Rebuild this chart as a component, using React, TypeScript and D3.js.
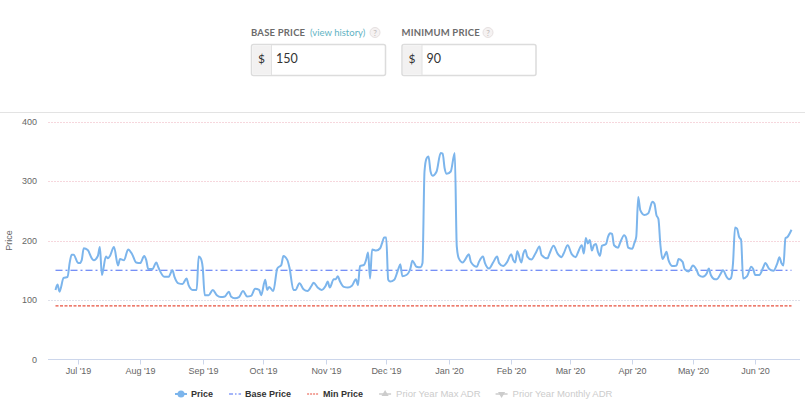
import * as d3 from "d3";
import React, { useEffect, useRef } from "react";

// daily rate series
const priceDates = [
  "2019-06-20", "2019-06-21", "2019-06-22", "2019-06-24", "2019-06-26", "2019-06-27", "2019-06-28", "2019-06-29",
  "2019-07-01", "2019-07-02", "2019-07-03", "2019-07-04", "2019-07-06", "2019-07-08", "2019-07-09", "2019-07-11",
  "2019-07-12", "2019-07-13", "2019-07-15", "2019-07-16", "2019-07-17", "2019-07-19", "2019-07-21", "2019-07-22",
  "2019-07-24", "2019-07-26", "2019-07-28", "2019-07-30",
  "2019-08-01", "2019-08-03", "2019-08-04", "2019-08-05", "2019-08-07", "2019-08-09", "2019-08-10", "2019-08-13",
  "2019-08-15", "2019-08-17", "2019-08-18", "2019-08-20", "2019-08-22", "2019-08-24", "2019-08-25", "2019-08-27",
  "2019-08-29", "2019-08-30", "2019-08-31",
  "2019-09-01", "2019-09-02", "2019-09-04", "2019-09-06", "2019-09-08", "2019-09-10", "2019-09-12", "2019-09-14",
  "2019-09-15", "2019-09-17", "2019-09-19", "2019-09-21", "2019-09-23", "2019-09-25", "2019-09-27", "2019-09-29",
  "2019-09-30",
  "2019-10-02", "2019-10-03", "2019-10-04", "2019-10-06", "2019-10-08", "2019-10-10", "2019-10-11", "2019-10-13",
  "2019-10-14", "2019-10-16", "2019-10-17", "2019-10-19", "2019-10-21", "2019-10-23", "2019-10-25", "2019-10-26",
  "2019-10-28", "2019-10-30",
  "2019-11-01", "2019-11-02", "2019-11-03", "2019-11-05", "2019-11-06", "2019-11-07", "2019-11-08", "2019-11-10",
  "2019-11-12", "2019-11-14", "2019-11-16", "2019-11-17", "2019-11-18", "2019-11-20", "2019-11-21", "2019-11-22",
  "2019-11-23", "2019-11-24", "2019-11-26", "2019-11-28", "2019-11-29", "2019-11-30",
  "2019-12-01", "2019-12-02", "2019-12-03", "2019-12-05", "2019-12-07", "2019-12-08", "2019-12-09", "2019-12-11",
  "2019-12-13", "2019-12-14", "2019-12-16", "2019-12-18", "2019-12-19", "2019-12-20", "2019-12-21", "2019-12-22",
  "2019-12-23", "2019-12-24", "2019-12-26", "2019-12-28", "2019-12-29", "2019-12-30", "2019-12-31",
  "2020-01-02", "2020-01-04", "2020-01-05", "2020-01-06", "2020-01-08", "2020-01-09", "2020-01-11", "2020-01-12",
  "2020-01-15", "2020-01-16", "2020-01-18", "2020-01-19", "2020-01-21", "2020-01-23", "2020-01-25", "2020-01-26",
  "2020-01-28", "2020-01-30",
  "2020-02-01", "2020-02-02", "2020-02-03", "2020-02-04", "2020-02-06", "2020-02-07", "2020-02-08", "2020-02-09",
  "2020-02-11", "2020-02-13", "2020-02-15", "2020-02-16", "2020-02-19", "2020-02-20", "2020-02-22", "2020-02-24",
  "2020-02-26", "2020-02-27", "2020-02-29",
  "2020-03-02", "2020-03-04", "2020-03-05", "2020-03-07", "2020-03-08", "2020-03-09", "2020-03-10", "2020-03-11",
  "2020-03-12", "2020-03-13", "2020-03-14", "2020-03-15", "2020-03-16", "2020-03-17", "2020-03-19", "2020-03-20",
  "2020-03-21", "2020-03-22", "2020-03-23", "2020-03-25", "2020-03-26", "2020-03-28", "2020-03-29", "2020-03-30",
  "2020-04-01", "2020-04-02", "2020-04-03", "2020-04-04", "2020-04-05", "2020-04-07", "2020-04-09", "2020-04-11",
  "2020-04-12", "2020-04-13", "2020-04-14", "2020-04-15", "2020-04-16", "2020-04-17", "2020-04-18", "2020-04-19",
  "2020-04-21", "2020-04-23", "2020-04-24", "2020-04-26", "2020-04-27", "2020-04-29", "2020-04-30",
  "2020-05-01", "2020-05-03", "2020-05-04", "2020-05-06", "2020-05-08", "2020-05-09", "2020-05-10", "2020-05-12",
  "2020-05-13", "2020-05-15", "2020-05-16", "2020-05-18", "2020-05-19", "2020-05-20", "2020-05-21", "2020-05-22",
  "2020-05-23", "2020-05-24", "2020-05-25", "2020-05-26", "2020-05-28", "2020-05-30", "2020-05-31",
  "2020-06-01", "2020-06-03", "2020-06-05", "2020-06-06", "2020-06-08", "2020-06-10", "2020-06-12", "2020-06-13",
  "2020-06-14", "2020-06-15", "2020-06-16", "2020-06-17", "2020-06-19",
];

const priceValues = [
  117, 126, 114, 137, 139, 162, 176, 176,
  163, 162, 167, 187, 184, 170, 167, 174,
  189, 142, 173, 170, 174, 189, 158, 169,
  167, 185, 177, 163,
  162, 174, 167, 152, 152, 163, 155, 139,
  139, 150, 139, 128, 127, 136, 125, 117,
  117, 173, 170,
  155, 108, 108, 117, 108, 105, 106, 114,
  106, 103, 105, 115, 106, 107, 119, 117,
  108,
  134, 117, 122, 115, 153, 159, 174, 167,
  155, 117, 117, 128, 118, 115, 124, 129,
  121, 117,
  124, 131, 121, 135, 135, 140, 132, 122,
  121, 124, 135, 125, 157, 159, 167, 180,
  136, 185, 183, 187, 196, 205,
  205, 134, 131, 134, 152, 160, 140, 142,
  153, 166, 156, 155, 162, 316, 338, 341,
  316, 309, 316, 347, 346, 321, 312,
  316, 347, 190, 170, 163, 167, 177, 164,
  156, 164, 173, 162, 153, 163, 173, 162,
  157, 164,
  177, 167, 163, 182, 163, 178, 184, 173,
  168, 178, 190, 176, 170, 178, 191, 178,
  172, 178, 192,
  177, 172, 179, 192, 178, 204, 195, 201,
  183, 192, 194, 181, 174, 191, 194, 206,
  212, 211, 192, 188, 196, 209, 204, 188,
  186, 195, 206, 273, 251, 243, 246, 265,
  262, 243, 236, 192, 169, 174, 181, 167,
  157, 158, 169, 164, 152, 148, 152,
  158, 150, 142, 139, 145, 153, 142, 135,
  135, 145, 150, 138, 135, 137, 162, 222,
  220, 206, 201, 136, 140, 156, 152,
  142, 142, 155, 162, 152, 149, 162, 172,
  162, 158, 204, 206, 218,
];

const basePrice = 150;
const minPrice = 90;
const yTicks = [0, 100, 200, 300, 400];
const monthTicks = [
  "2019-07-01", "2019-08-01", "2019-09-01", "2019-10-01", "2019-11-01", "2019-12-01",
  "2020-01-01", "2020-02-01", "2020-03-01", "2020-04-01", "2020-05-01", "2020-06-01",
];
const legendNames = ["Price", "Base Price", "Min Price", "Prior Year Max ADR", "Prior Year Monthly ADR"];
const legendHidden = [false, false, false, true, true];

const W = 805;
const H = 399;
const FONT = "'Liberation Sans', Arial, sans-serif";
const FORM_FONT = "Lato, 'Open Sans', sans-serif";

function App() {
  const ref = useRef<SVGSVGElement>(null);

  useEffect(() => {
    const svg = d3.select(ref.current);
    svg.selectAll("*").remove();

    const parse = d3.timeParse("%Y-%m-%d");
    const data = priceDates.map((d, i) => ({ date: parse(d) as Date, value: priceValues[i] }));

    const plot = { left: 48, right: 800, top: 121.5, bottom: 359.5 };

    const x = d3
      .scaleTime()
      .domain(d3.extent(data, (d) => d.date) as [Date, Date])
      .range([55.5, 791.5]);
    const y = d3.scaleLinear().domain([0, 400]).range([plot.bottom, plot.top]);

    // ---- top form (base / minimum price) ----
    const form = svg.append("g");
    form
      .append("line")
      .attr("x1", 0)
      .attr("x2", W)
      .attr("y1", 112.5)
      .attr("y2", 112.5)
      .attr("stroke", "#e3e3e3");

    const fields = [
      { label: "BASE PRICE", value: "150", x: 251, link: "(view history)", q: 375 },
      { label: "MINIMUM PRICE", value: "90", x: 401.5, link: "", q: 488 },
    ];
    fields.forEach((f) => {
      form
        .append("text")
        .attr("x", f.x)
        .attr("y", 36)
        .style("font-family", FORM_FONT)
        .style("font-size", "9.5px")
        .style("font-weight", "bold")
        .style("letter-spacing", "0.2px")
        .style("fill", "#6b6b6b")
        .text(f.label);
      if (f.link) {
        form
          .append("text")
          .attr("x", 310)
          .attr("y", 36)
          .style("font-family", FORM_FONT)
          .style("font-size", "9.5px")
          .style("fill", "#62b3c4")
          .text(f.link);
      }
      form
        .append("circle")
        .attr("cx", f.q)
        .attr("cy", 32.5)
        .attr("r", 5)
        .attr("fill", "#f5f2f2")
        .attr("stroke", "#e6e0e0");
      form
        .append("text")
        .attr("x", f.q)
        .attr("y", 35.5)
        .attr("text-anchor", "middle")
        .style("font-family", FORM_FONT)
        .style("font-size", "8px")
        .style("fill", "#bdb8b8")
        .text("?");

      form
        .append("rect")
        .attr("x", f.x + 0.5)
        .attr("y", 44.5)
        .attr("width", 134)
        .attr("height", 31)
        .attr("rx", 2)
        .attr("fill", "#fff")
        .attr("stroke", "#dcdcdc")
        .attr("stroke-width", 1.5);
      form
        .append("rect")
        .attr("x", f.x + 1.5)
        .attr("y", 45.5)
        .attr("width", 19)
        .attr("height", 29)
        .attr("fill", "#f2f1f1");
      form
        .append("line")
        .attr("x1", f.x + 20.5)
        .attr("x2", f.x + 20.5)
        .attr("y1", 45)
        .attr("y2", 75)
        .attr("stroke", "#e2e2e2");
      form
        .append("text")
        .attr("x", f.x + 10.5)
        .attr("y", 63)
        .attr("text-anchor", "middle")
        .style("font-family", FORM_FONT)
        .style("font-size", "12px")
        .style("fill", "#333")
        .text("$");
      form
        .append("text")
        .attr("x", f.x + 25)
        .attr("y", 63)
        .style("font-family", FORM_FONT)
        .style("font-size", "12.5px")
        .style("fill", "#333")
        .text(f.value);
    });

    // ---- grid ----
    yTicks.forEach((t) => {
      if (t > 0) {
        svg
          .append("line")
          .attr("x1", plot.left)
          .attr("x2", plot.right)
          .attr("y1", Math.round(y(t)) + 0.5)
          .attr("y2", Math.round(y(t)) + 0.5)
          .attr("stroke", t === 100 ? "#dfe1ea" : "#f6d7dd")
          .attr("stroke-dasharray", "2,1");
      }
      svg
        .append("text")
        .attr("x", 37)
        .attr("y", y(t) + 3)
        .attr("text-anchor", "end")
        .style("font-family", FONT)
        .style("font-size", "9px")
        .style("fill", "#666")
        .text(t.toString());
    });

    svg
      .append("text")
      .attr("transform", `translate(12,${(plot.top + plot.bottom) / 2}) rotate(-90)`)
      .attr("text-anchor", "middle")
      .style("font-family", FONT)
      .style("font-size", "9px")
      .style("fill", "#666")
      .text("Price");

    // x axis
    svg
      .append("line")
      .attr("x1", plot.left)
      .attr("x2", plot.right)
      .attr("y1", plot.bottom)
      .attr("y2", plot.bottom)
      .attr("stroke", "#ccd6eb");

    const fmt = d3.timeFormat("%b '%y");
    monthTicks.forEach((m) => {
      const d = parse(m) as Date;
      const tx = Math.round(x(d)) + 0.5;
      svg
        .append("line")
        .attr("x1", tx)
        .attr("x2", tx)
        .attr("y1", plot.bottom)
        .attr("y2", plot.bottom + 5)
        .attr("stroke", "#ccd6eb");
      svg
        .append("text")
        .attr("x", tx)
        .attr("y", 374)
        .attr("text-anchor", "middle")
        .style("font-family", FONT)
        .style("font-size", "9px")
        .style("fill", "#666")
        .text(fmt(d));
    });

    // ---- reference lines ----
    const [x0, x1] = x.range();
    svg
      .append("line")
      .attr("x1", x0)
      .attr("x2", x1)
      .attr("y1", y(minPrice))
      .attr("y2", y(minPrice))
      .attr("stroke", "#e8513f")
      .attr("stroke-width", 1.2)
      .attr("stroke-dasharray", "3,1.5");
    svg
      .append("line")
      .attr("x1", x0)
      .attr("x2", x1)
      .attr("y1", y(basePrice))
      .attr("y2", y(basePrice))
      .attr("stroke", "#4a6cf4")
      .attr("stroke-width", 1.2)
      .attr("stroke-dasharray", "7,3,2,3");

    // ---- price line ----
    const line = d3
      .line<{ date: Date; value: number }>()
      .x((d) => x(d.date))
      .y((d) => y(d.value))
      .curve(d3.curveMonotoneX);

    svg
      .append("path")
      .datum(data)
      .attr("d", line)
      .attr("fill", "none")
      .attr("stroke", "#7cb5ec")
      .attr("stroke-width", 2)
      .attr("stroke-linejoin", "round");

    // ---- legend ----
    let lx = 175;
    const ly = 394;
    legendNames.forEach((name, i) => {
      const hidden = legendHidden[i];
      const g = svg.append("g");
      if (i === 0) {
        g.append("line").attr("x1", lx).attr("x2", lx + 12).attr("y1", ly).attr("y2", ly)
          .attr("stroke", "#7cb5ec").attr("stroke-width", 2);
        g.append("circle").attr("cx", lx + 6).attr("cy", ly).attr("r", 3.5).attr("fill", "#7cb5ec");
      } else if (i === 1) {
        g.append("line").attr("x1", lx).attr("x2", lx + 12).attr("y1", ly).attr("y2", ly)
          .attr("stroke", "#4a6cf4").attr("stroke-width", 1.2).attr("stroke-dasharray", "4,2,1.5,2");
      } else if (i === 2) {
        g.append("line").attr("x1", lx).attr("x2", lx + 12).attr("y1", ly).attr("y2", ly)
          .attr("stroke", "#e8513f").attr("stroke-width", 1.2).attr("stroke-dasharray", "2,1");
      } else {
        g.append("line").attr("x1", lx).attr("x2", lx + 12).attr("y1", ly).attr("y2", ly)
          .attr("stroke", "#ccc").attr("stroke-width", 1.5);
        const tri = d3.symbol().type(d3.symbolTriangle).size(22);
        g.append("path").attr("d", tri).attr("fill", "#ccc")
          .attr("transform", `translate(${lx + 6},${ly}) rotate(${i === 4 ? 180 : 0})`);
      }
      const t = g
        .append("text")
        .attr("x", lx + (hidden ? 17 : 16))
        .attr("y", ly + 3)
        .style("font-family", FONT)
        .style("font-size", hidden ? "9.5px" : "9px")
        .style("font-weight", hidden ? "normal" : "bold")
        .style("fill", hidden ? "#cccccc" : "#333333")
        .text(name);
      lx += 16 + (t.node() as SVGTextElement).getComputedTextLength() + 16;
    });
  }, []);

  return (
    <div style={{ position: "absolute", left: 0, top: 0 }}>
      <svg ref={ref} width={W} height={H} style={{ display: "block", background: "#fff" }}></svg>
    </div>
  );
}

export default App;
